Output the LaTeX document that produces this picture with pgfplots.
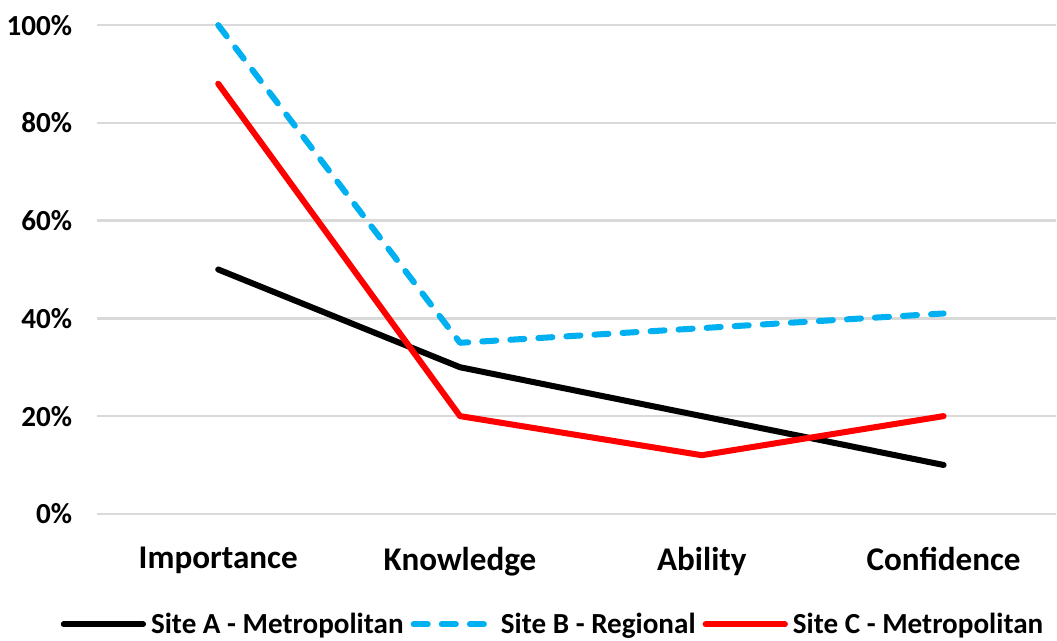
\documentclass[border=0pt]{standalone}
\usepackage{pgfplots}
\pgfplotsset{compat=1.18}
\usepackage{fontspec}
\setmainfont{Carlito}
\definecolor{siteb}{RGB}{0,176,240}
\definecolor{gridgray}{RGB}{217,217,217}
\begin{document}
\begin{tikzpicture}
\begin{axis}[
    scale only axis,
    width=477.5pt, height=243.5pt,
    xmin=-0.5, xmax=3.464,
    ymin=0, ymax=100,
    clip=false,
    axis line style={draw=none},
    tick style={draw=none},
    ymajorgrids=true,
    grid style={gridgray, line width=1.2pt},
    ytick={0,20,40,60,80,100},
    yticklabel={\pgfmathprintnumber{\tick}\%},
    yticklabel style={font=\fontsize{14.5}{16}\selectfont\bfseries, xshift=-9pt},
    xtick={0,1,2,3},
    xticklabels={Importance,Knowledge,Ability,Confidence},
    xticklabel style={font=\fontsize{16.5}{18}\selectfont\bfseries, yshift=-13pt},
    /pgf/number format/assume math mode=true,
    legend style={at={(0.477,-0.226)}, anchor=center, draw=none,
        inner sep=0pt,
        font=\fontsize{14.5}{16}\selectfont\bfseries,
        legend columns=3,
        nodes={inner xsep=2.5pt},
        /tikz/every even column/.append style={column sep=1pt},
        /tikz/column 4/.append style={column sep=4.5pt}},
    legend image code/.code={
        \draw[#1, line cap=round] (0pt,0pt) -- (39.5pt,0pt);},
]
\addplot[black, line width=3pt, line cap=round, line join=round]
    coordinates {(0,50)(1,30)(2,20)(3,10)};
\addlegendentry{Site A - Metropolitan}
\addplot[siteb, line width=3pt, line cap=round, line join=round, dash pattern=on 7pt off 7pt]
    coordinates {(0,100)(1,35)(2,38)(3,41)};
\addlegendentry{Site B - Regional}
\addplot[red, line width=3pt, line cap=round, line join=round]
    coordinates {(0,88)(1,20)(2,12)(3,20)};
\addlegendentry{Site C - Metropolitan}
\path (rel axis cs:0,1) ++(0,12.5pt) coordinate (top);
\path[use as bounding box] (top) rectangle (top);
\end{axis}
\end{tikzpicture}
\end{document}
